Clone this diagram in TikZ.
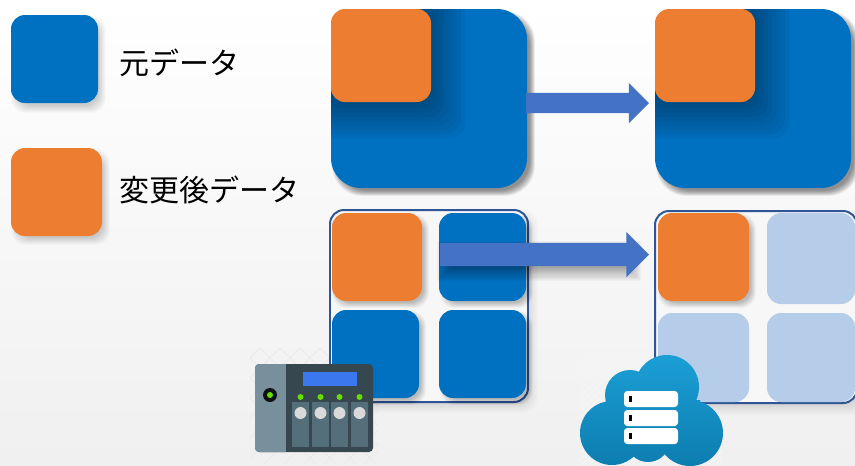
\documentclass[tikz,border=0pt]{standalone}
\usepackage{fontspec}
\setmainfont{Noto Sans CJK JP}
\usetikzlibrary{shapes.arrows}

\definecolor{datablue}{HTML}{0070C0}
\definecolor{dataorange}{HTML}{ED7D31}
\definecolor{datalight}{HTML}{B5CDE9}
\definecolor{framblue}{HTML}{2F5597}
\definecolor{arrowblue}{HTML}{4472C4}
\definecolor{nasdark}{HTML}{37474F}
\definecolor{nasgrey}{HTML}{78909C}
\definecolor{nasbay}{HTML}{546E7A}
\definecolor{naslcd}{HTML}{3B78F0}
\definecolor{nasled}{HTML}{66DD00}
\definecolor{cloudtop}{HTML}{1B9FD6}
\definecolor{cloudlow}{HTML}{0D7DAF}

\tikzset{
    block/.style={anchor=north west, inner sep=0pt, outer sep=0pt, minimum width=#1*0.03cm},
    bigblue/.style={block=196, minimum height=179*0.03cm, fill=datablue, rounded corners=0.9cm},
    patch/.style={block=100, minimum height=93*0.03cm, fill=dataorange, rounded corners=0.42cm},
    cell/.style={block=#1, minimum height=88*0.03cm, rounded corners=0.42cm},
    frame/.style={block=#1, minimum height=192*0.03cm, draw=framblue, line width=1.7pt, rounded corners=0.42cm},
    legendtext/.style={anchor=west, inner sep=0pt, font=\fontsize{25.6}{25.6}\selectfont},
    blockarrow/.style={single arrow, anchor=tail, draw=none, fill=arrowblue, inner sep=0pt, outer sep=0pt,
        single arrow head indent=0pt, shape border rotate=0},
}

% layered translucent boxes: x1, y1, x2, y2, corner, spread, opacity
\newcommand{\softshadow}[7]{
    \foreach \g in {0,1,...,15}
        \fill[black, opacity=#7, rounded corners=#5*0.03cm]
            (#1-#6+\g*#6/8, #2-#6+\g*#6/8) rectangle (#3+#6-\g*#6/8, #4+#6-\g*#6/8);
}

\begin{document}
\begin{tikzpicture}[x=0.03cm, y=-0.03cm]
    \useasboundingbox (0,0) rectangle (855,465);
    \clip (0,0) rectangle (855,465);
    \shade[top color=white, middle color=white, bottom color=black!6] (0,0) rectangle (855,465);

    % Legend
    \softshadow{15}{20}{102}{109}{14}{4}{0.012}
    \softshadow{15}{153}{106}{241}{14}{4}{0.012}
    \node[cell=87, fill=datablue] (legendBlue) at (11,15) {};
    \node[cell=91, fill=dataorange] (legendOrange) at (11,148) {};
    \node[legendtext] (legendBlueText) at (119,63) {元データ};
    \node[legendtext] (legendOrangeText) at (119,190) {変更後データ};

    % Whole-file copy
    \softshadow{335}{14}{532}{193}{30}{3}{0.03}
    \softshadow{659}{14}{856}{193}{30}{3}{0.03}
    \node[bigblue] (fileSource) at (331,9) {};
    \node[bigblue] (fileTarget) at (655,9) {};
    \begin{scope}
        \clip[rounded corners=0.9cm] (331,9) rectangle (527,188);
        \softshadow{331}{9}{431}{104}{14}{34}{0.04}
    \end{scope}
    \begin{scope}
        \clip[rounded corners=0.9cm] (655,9) rectangle (851,188);
        \softshadow{655}{9}{755}{104}{14}{34}{0.04}
    \end{scope}
    \node[patch] (patchSource) at (331,9) {};
    \node[patch] (patchTarget) at (655,9) {};
    \node[blockarrow, text height=20*0.03cm, text depth=0pt, minimum height=123*0.03cm, minimum width=40*0.03cm, single arrow head extend=10*0.03cm] (fileArrow) at (526,103) {};

    % Faint pattern of the icons
    \begin{scope}
        \clip (250,348) rectangle (378,465);
        \foreach \k in {0,1,...,12} {
            \draw[black!8, line width=1pt] (200+\k*20,348) -- +(117,117);
            \draw[black!8, line width=1pt] (260+\k*20,348) -- +(-117,117);
        }
    \end{scope}
    \begin{scope}
        \clip (580,355) rectangle (722,465);
        \foreach \k in {0,1,...,40}
            \draw[black!4, line width=1pt] (580+\k*7,355) -- +(-110,110);
    \end{scope}

    % Block copy, source side
    \softshadow{335}{215}{532}{407}{14}{6}{0.006}
    \node[frame=198, fill=white!97!black] (blocksSource) at (330,210) {};
    \softshadow{335}{217}{426}{305}{14}{3}{0.015}
    \softshadow{443}{217}{530}{305}{14}{3}{0.015}
    \softshadow{335}{314}{423}{402}{14}{3}{0.015}
    \softshadow{443}{314}{530}{402}{14}{3}{0.015}
    \node[cell=90, fill=dataorange] (srcA) at (332,213) {};
    \node[cell=87, fill=datablue] (srcB) at (439,213) {};
    \node[cell=87, fill=datablue] (srcC) at (332,310) {};
    \node[cell=87, fill=datablue] (srcD) at (439,310) {};

    % Block copy, cloud side
    \softshadow{660}{216}{862}{409}{14}{6}{0.006}
    \node[frame=202, fill=white!97!black] (blocksTarget) at (655,211) {};
    \softshadow{661}{217}{753}{305}{14}{3}{0.015}
    \node[cell=91, fill=dataorange] (dstA) at (658,213) {};
    \node[cell=88, fill=datalight, minimum height=91*0.03cm] (dstB) at (767,213) {};
    \node[cell=91, fill=datalight, minimum height=89*0.03cm] (dstC) at (658,313) {};
    \node[cell=88, fill=datalight, minimum height=89*0.03cm] (dstD) at (767,313) {};

    \softshadow{446}{250}{632}{272}{0}{9}{0.028}
    \node[blockarrow, text height=23*0.03cm, text depth=0pt, minimum height=209*0.03cm, minimum width=45*0.03cm, single arrow head extend=11*0.03cm] (blockArrow) at (440,254.5) {};

    % NAS icon
    \fill[nasdark, rounded corners=0.12cm] (255,364) rectangle (373,452);
    \fill[nasgrey, rounded corners=0.12cm] (255,364) rectangle (290,452);
    \fill[nasdark] (286,364) rectangle (292,452);
    \fill[naslcd] (303,372) rectangle (357,386);
    \fill[black!75!nasdark] (270,395) circle (7);
    \fill[nasled] (270,395) circle (3);
    \foreach \x in {300.5,320.5,339.5,359.5} {
        \fill[nasled] (\x,397) circle (3);
        \fill[nasbay] (\x-8.5,402) rectangle (\x+8.5,447);
        \fill[black!15] (\x,413) circle (6);
    }

    % Cloud icon
    \shade[top color=cloudtop, bottom color=cloudlow]
        (667,387) circle (32) (630,395) circle (25) (612,433) circle (32) (690,433) circle (33)
        (648,440) circle (22) (700,400) rectangle (620,452);
    \foreach \y in {391,410,428} {
        \fill[white, rounded corners=0.1cm] (624,\y) rectangle (678,\y+16);
        \fill[black] (629,\y+5) rectangle (632,\y+11);
    }
\end{tikzpicture}
\end{document}
